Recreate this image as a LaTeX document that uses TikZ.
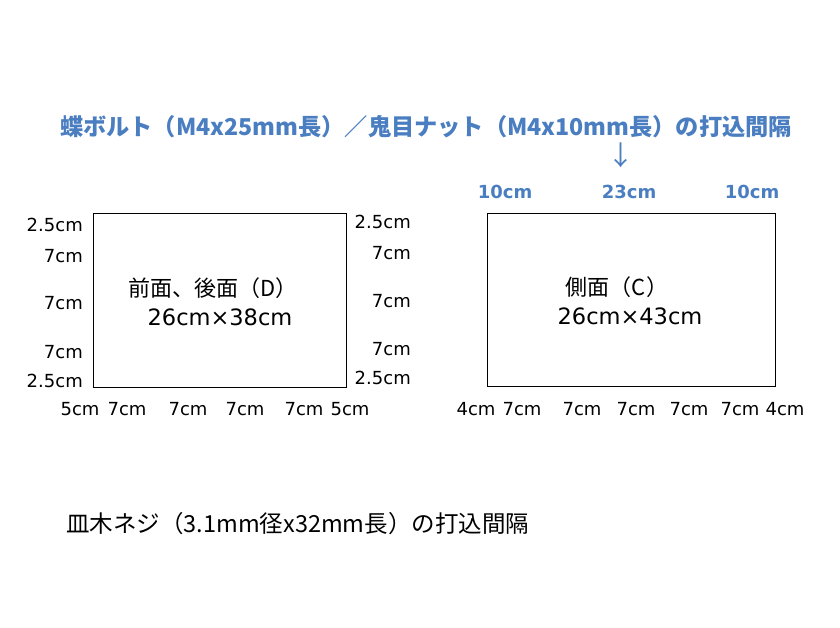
\documentclass[tikz,border=0pt]{standalone}
\usepackage{fontspec}
\setmainfont{DejaVu Sans}
\newfontfamily\jpfont{Noto Sans CJK JP}
\definecolor{titleblue}{RGB}{74,126,193}

\begin{document}
\begin{tikzpicture}[x=1pt, y=-1pt, inner sep=0pt,
        lbl/.style = {font=\fontsize{18}{21}\selectfont},
        bluelbl/.style = {font=\fontsize{18}{21}\selectfont\bfseries, text=titleblue},
        panel/.style = {draw, line width=1pt},
        panelname/.style = {font=\jpfont\fontsize{22}{26}\selectfont},
        panelsize/.style = {font=\fontsize{22.5}{26}\selectfont}]
        \useasboundingbox (0,0) rectangle (840,627);

        % title
        \node (title) [font=\jpfont\bfseries\fontsize{23.2}{27}\selectfont, text=titleblue] at (426,127)
            {蝶ボルト（M4x25mm長）／鬼目ナット（M4x10mm長）の打込間隔};
        \node (arrow) [font=\jpfont\fontsize{27}{30}\selectfont, text=titleblue] at (621,155) {↓};

        % front / back panel
        \draw[panel] (93,213) rectangle (346,387);
        \node (dname) [panelname] at (213,288) {前面、後面（D）};
        \node (dsize) [panelsize] at (220,317) {26cm×38cm};
        \foreach \y/\t [count=\i] in {225/2.5cm, 256/7cm, 303/7cm, 352/7cm, 381/2.5cm}
            \node (dl\i) [lbl, anchor=east] at (83,\y) {\t};
        \foreach \y/\t [count=\i] in {222/2.5cm, 253/7cm, 301/7cm, 349/7cm, 378/2.5cm}
            \node (dr\i) [lbl, anchor=east] at (411,\y) {\t};
        \foreach \x/\t [count=\i] in {80/5cm, 127/7cm, 188/7cm, 245/7cm, 304/7cm, 350/5cm}
            \node (db\i) [lbl] at (\x,409) {\t};

        % side panel
        \draw[panel] (487,213) rectangle (775,386);
        \node (cname) [panelname] at (617,287) {側面（C）};
        \node (csize) [panelsize] at (630,316) {26cm×43cm};
        \foreach \x/\t [count=\i] in {505/10cm, 629/23cm, 752/10cm}
            \node (ct\i) [bluelbl] at (\x,192) {\t};
        \foreach \x/\t [count=\i] in {476/4cm, 522/7cm, 582/7cm, 636/7cm, 689/7cm, 740/7cm, 785/4cm}
            \node (cb\i) [lbl] at (\x,409) {\t};

        % screws
        \node (screws) [font=\jpfont\fontsize{23.5}{27}\selectfont, anchor=west] at (66,524)
            {皿木ネジ（3.1mm径x32mm長）の打込間隔};
\end{tikzpicture}
\end{document}
